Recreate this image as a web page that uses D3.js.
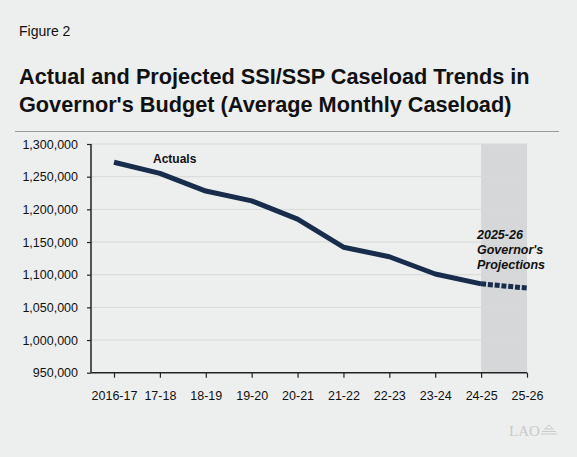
<!DOCTYPE html>
<html lang="en">
<head>
  <meta charset="UTF-8">
  <title>Figure 2</title>
  <script src="https://d3js.org/d3.v7.min.js"></script>
  <style>
    html, body { margin: 0; padding: 0; background: #edeeee; }
    svg { display: block; font-family: "Liberation Sans", Arial, sans-serif; }
  </style>
</head>
<body>
  <svg id="chart" width="577" height="457"></svg>
  <script>
    // values
    const years = ['2016-17', '17-18', '18-19', '19-20', '20-21', '21-22', '22-23', '23-24', '24-25', '25-26'];
    const caseload = [1272000, 1255000, 1228000, 1213000, 1185000, 1142000, 1127500, 1101000, 1086000, 1079500];
    const yTicks = [950000, 1000000, 1050000, 1100000, 1150000, 1200000, 1250000, 1300000];
    const projectionStart = '24-25';

    const svg = d3.select('#chart');
    const navy = '#182c4c';

    svg.append('rect').attr('width', 577).attr('height', 457).attr('fill', '#edeeee');

    // header
    svg.append('text').attr('x', 19).attr('y', 36)
      .attr('font-size', 14).attr('fill', '#111').text('Figure 2');
    const title = svg.append('text').attr('x', 19).attr('font-size', 21.7)
      .attr('font-weight', 'bold').attr('fill', '#111');
    title.append('tspan').attr('x', 19).attr('y', 84).text('Actual and Projected SSI/SSP Caseload Trends in');
    title.append('tspan').attr('x', 19).attr('y', 112).text("Governor's Budget (Average Monthly Caseload)");
    svg.append('line').attr('x1', 15).attr('x2', 559).attr('y1', 131.5).attr('y2', 131.5)
      .attr('stroke', '#9a9a9a').attr('stroke-width', 1);

    const x0 = 91, x1 = 527, yTop = 144, yBot = 372.7;
    const step = (x1 - 114) / (years.length - 1);

    const x = d3.scalePoint().domain(years).range([x1 - step * (years.length - 1), x1]);
    const y = d3.scaleLinear().domain([950000, 1300000]).range([yBot, yTop]);

    // projection shading
    svg.append('rect')
      .attr('x', x(projectionStart)).attr('y', yTop)
      .attr('width', x1 - x(projectionStart)).attr('height', yBot - yTop)
      .attr('fill', '#d6d7d9');

    // gridlines
    svg.append('g').selectAll('line')
      .data(yTicks.filter(d => d > 950000))
      .join('line')
      .attr('x1', x0).attr('x2', x1)
      .attr('y1', d => y(d)).attr('y2', d => y(d))
      .attr('stroke', '#d8d9d9').attr('stroke-width', 1);

    // y axis
    const yAxis = svg.append('g').attr('transform', `translate(${x0},0)`)
      .call(d3.axisLeft(y).tickValues(yTicks).tickSize(4).tickPadding(9)
        .tickFormat(d3.format(',')));
    yAxis.select('.domain').attr('d', `M0,${yTop}V${yBot}`).attr('stroke', '#222').attr('stroke-width', 1.5);
    yAxis.selectAll('.tick line').attr('stroke', '#222').attr('stroke-width', 1.2);
    yAxis.selectAll('.tick text').attr('font-size', 12.5).attr('fill', '#111')
      .attr('font-family', '"Liberation Sans", Arial, sans-serif');

    // x axis
    const xAxis = svg.append('g').attr('transform', `translate(0,${yBot})`)
      .call(d3.axisBottom(x).tickSize(5).tickPadding(13));
    xAxis.select('.domain').attr('d', `M${x0},0H${x1}`).attr('stroke', '#222').attr('stroke-width', 1.5);
    xAxis.selectAll('.tick line').attr('stroke', '#222').attr('stroke-width', 1.2);
    xAxis.selectAll('.tick text').attr('font-size', 12.5).attr('fill', '#111')
      .attr('font-family', '"Liberation Sans", Arial, sans-serif');

    // line
    const pts = years.map((yr, i) => ({ yr, v: caseload[i] }));
    const split = years.indexOf(projectionStart);
    const line = d3.line().x(d => x(d.yr)).y(d => y(d.v));

    svg.append('path').datum(pts.slice(0, split + 1))
      .attr('d', line).attr('fill', 'none')
      .attr('stroke', navy).attr('stroke-width', 5).attr('stroke-linejoin', 'round');
    svg.append('path').datum(pts.slice(split))
      .attr('d', line).attr('fill', 'none')
      .attr('stroke', navy).attr('stroke-width', 5).attr('stroke-dasharray', '5,1.8');

    // annotations
    svg.append('text').attr('x', 153).attr('y', 163)
      .attr('font-size', 12).attr('font-weight', 'bold').attr('fill', '#111').text('Actuals');
    const proj = svg.append('text').attr('font-size', 12.5).attr('font-weight', 'bold')
      .attr('font-style', 'italic').attr('fill', '#111');
    ['2025-26', "Governor's", 'Projections'].forEach((t, i) => {
      proj.append('tspan').attr('x', 477).attr('y', 239 + i * 15).text(t);
    });

    // LAO mark
    svg.append('text').attr('x', 509).attr('y', 436)
      .attr('font-family', '"Liberation Serif", serif').attr('font-size', 15)
      .attr('fill', '#c9caca').text('LAO');
    const logo = svg.append('g').attr('stroke', '#c9caca').attr('fill', 'none').attr('stroke-width', 1.2);
    logo.append('path').attr('d', 'M541,434H557M542,431.5H556M544,429H554');
    logo.append('path').attr('d', 'M546,428.5Q549,422 552,428.5').attr('stroke-width', 1);
  </script>
</body>
</html>
